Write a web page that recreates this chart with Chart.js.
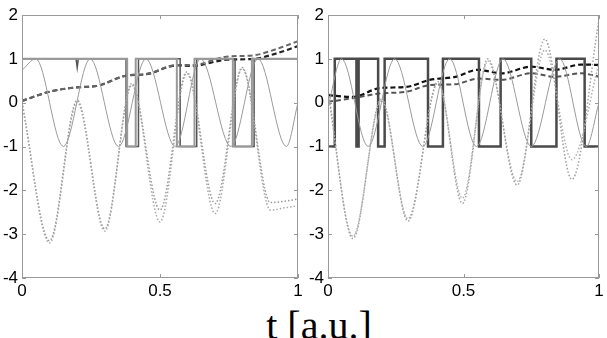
<!DOCTYPE html>
<html>
<head>
<meta charset="utf-8">
<script src="https://cdn.jsdelivr.net/npm/chart.js@4"></script>
<style>
  body { margin: 0; background: #fff; }
  #wrap { position: relative; width: 607px; height: 338px; overflow: hidden; }
  #left { position: absolute; left: 0; top: 0; }
  #right { position: absolute; left: 306px; top: 0; }
  #xlabel { position: absolute; left: 319px; top: 306px; transform: translateX(-50%);
            font: 40px "Liberation Serif", serif; line-height: 40px; white-space: nowrap; color: #000; }
</style>
</head>
<body>
<div id="wrap">
  <canvas id="left" width="306" height="300"></canvas>
  <canvas id="right" width="301" height="300"></canvas>
  <div id="xlabel">t [a.u.]</div>
</div>
<script>
// axis ticks
const xTicks = [0, 0.5, 1];
const yTicks = [-4, -3, -2, -1, 0, 1, 2];

// ---- left panel ----
const lSquareT = [0, 0.196, 0.2, 0.204, 0.377, 0.377, 0.422, 0.422, 0.573, 0.573, 0.633, 0.633, 0.772, 0.772, 0.841, 0.841, 1];
const lSquareV = [1, 1, 0.8, 1, 1, -1, -1, 1, 1, -1, -1, 1, 1, -1, -1, 1, 1];
const lSquare2T = [0, 0.381, 0.381, 0.412, 0.412, 0.561, 0.561, 0.625, 0.625, 0.764, 0.764, 0.833, 0.833, 1];
const lSquare2V = [1, 1, -1, -1, 1, 1, -1, -1, 1, 1, -1, -1, 1, 1];
const lSineT = [0, 0.05, 0.15, 0.247, 0.35, 0.449, 0.555, 0.647, 0.757, 0.855, 0.958, 1];
const lSineV = [0.74, 1, -1, 1, -1, 1, -1, 1, -1, 1, -1, 0];
const lDotT = [0, 0.1, 0.2, 0.3, 0.398, 0.5, 0.597, 0.7, 0.798, 0.9, 0.95, 1];
const lDotA = [0, -3.2, 0, -2.93, 0.44, -2.72, 0.67, -2.53, 0.78, -2.45, -2.4, -2.35];
const lDotB = [0, -3.15, 0.05, -2.88, 0.4, -2.45, 0.7, -2.3, 0.8, -2.28, -2.25, -2.2];
const lDashT = [0, 0.1, 0.2, 0.27, 0.38, 0.45, 0.56, 0.62, 0.74, 0.84, 0.92, 1];
const lDashDark = [0.04, 0.25, 0.35, 0.38, 0.62, 0.65, 0.85, 0.84, 0.98, 1.0, 1.12, 1.29];
const lDashGray = [0.04, 0.25, 0.35, 0.38, 0.62, 0.65, 0.86, 0.86, 1.05, 1.08, 1.22, 1.4];

// ---- right panel ----
const rSquareT = [0, 0.025, 0.025, 0.105, 0.105, 0.113, 0.113, 0.185, 0.185, 0.209, 0.209, 0.369, 0.369,
                  0.424, 0.424, 0.557, 0.557, 0.637, 0.637, 0.75, 0.75, 0.843, 0.843, 0.947, 0.947, 1];
const rSquareV = [-1, -1, 1, 1, -1, -1, 1, 1, -1, -1, 1, 1, -1, -1, 1, 1, -1, -1, 1, 1, -1, -1, 1, 1, -1, -1];
const rSineT = [0, 0.05, 0.148, 0.246, 0.35, 0.449, 0.548, 0.646, 0.75, 0.855, 0.953, 1];
const rSineV = [-0.1, 1, -1, 1, -1, 1, -1, 1, -1, 1, -1, 0];
const rDotT = [0, 0.092, 0.197, 0.295, 0.406, 0.496, 0.59, 0.698, 0.8, 0.9, 1];
const rDotA = [0.3, -3.1, 0.1, -2.7, 0.48, -2.3, 1.0, -1.88, 1.45, -1.75, 1.9];
const rDotB = [0.2, -3.05, 0.05, -2.65, 0.45, -2.18, 0.95, -1.8, 1.2, -1.3, 0.9];
const rDashT = [0, 0.09, 0.19, 0.29, 0.375, 0.47, 0.554, 0.64, 0.75, 0.837, 0.935, 1];
const rDashDark = [0.17, 0.13, 0.33, 0.36, 0.52, 0.59, 0.75, 0.67, 0.82, 0.75, 0.87, 0.86];
const rDashGray = [0.02, 0.1, 0.21, 0.25, 0.4, 0.42, 0.55, 0.52, 0.67, 0.59, 0.67, 0.59];

function pts(ts, vs) {
  return ts.map((t, i) => ({ x: t, y: vs[i] }));
}

function square(ts, vs, color, w) {
  return { data: pts(ts, vs), borderColor: color, borderWidth: w, tension: 0, pointRadius: 0 };
}
function smooth(ts, vs, color, w, dash) {
  return { data: pts(ts, vs), borderColor: color, borderWidth: w, borderDash: dash,
           cubicInterpolationMode: 'monotone', pointRadius: 0 };
}

// matlab style box with inward ticks
const frame = {
  id: 'frame',
  afterDraw(chart) {
    const { ctx, chartArea: a, scales } = chart;
    ctx.save();
    ctx.strokeStyle = '#999';
    ctx.lineWidth = 1;
    ctx.strokeRect(a.left + 0.5, a.top + 0.5, a.right - a.left - 1, a.bottom - a.top - 1);
    ctx.beginPath();
    xTicks.forEach(v => {
      const p = Math.round(scales.x.getPixelForValue(v)) + 0.5;
      ctx.moveTo(p, a.bottom); ctx.lineTo(p, a.bottom - 4);
      ctx.moveTo(p, a.top); ctx.lineTo(p, a.top + 4);
    });
    yTicks.forEach(v => {
      const p = Math.round(scales.y.getPixelForValue(v)) + 0.5;
      ctx.moveTo(a.left, p); ctx.lineTo(a.left + 4, p);
      ctx.moveTo(a.right, p); ctx.lineTo(a.right - 4, p);
    });
    ctx.stroke();
    ctx.restore();
  }
};

function makeOptions() {
  const font = { family: '"Liberation Sans", Arial, sans-serif', size: 17 };
  return {
    responsive: false,
    animation: false,
    layout: { padding: { top: 15, right: 8, left: 0, bottom: 0 } },
    plugins: { legend: { display: false }, tooltip: { enabled: false } },
    scales: {
      x: {
        type: 'linear', min: 0, max: 1,
        afterBuildTicks: s => { s.ticks = xTicks.map(v => ({ value: v })); },
        afterFit: s => { s.height = 22; },
        grid: { display: false, drawTicks: false }, border: { display: false },
        ticks: { color: '#000', font: font, padding: 3, maxRotation: 0, callback: v => String(v) }
      },
      y: {
        min: -4, max: 2,
        afterBuildTicks: s => { s.ticks = yTicks.map(v => ({ value: v })); },
        afterFit: s => { s.width = 22; },
        grid: { display: false, drawTicks: false }, border: { display: false },
        ticks: { color: '#000', font: font, padding: 4, callback: v => String(v) }
      }
    }
  };
}

new Chart(document.getElementById('left'), {
  type: 'line',
  data: {
    datasets: [
      smooth(lDotT, lDotA, '#a8a8a8', 1.5, [1.5, 2]),
      smooth(lDotT, lDotB, '#999', 1.5, [1.5, 2]),
      smooth(lSineT, lSineV, '#9a9a9a', 1, []),
      square(lSquare2T, lSquare2V, '#999', 2),
      square(lSquareT, lSquareV, '#555', 1.5),
      smooth(lDashT, lDashGray, '#666', 2, [5, 3]),
      smooth(lDashT, lDashDark, '#222', 2.2, [5, 3])
    ]
  },
  options: makeOptions(),
  plugins: [frame]
});

new Chart(document.getElementById('right'), {
  type: 'line',
  data: {
    datasets: [
      smooth(rDotT, rDotA, '#a0a0a0', 1.5, [1.5, 2]),
      smooth(rDotT, rDotB, '#b0b0b0', 1.5, [1.5, 2]),
      smooth(rSineT, rSineV, '#9a9a9a', 1, []),
      square(rSquareT, rSquareV, '#4a4a4a', 2.5),
      smooth(rDashT, rDashGray, '#555', 2, [5, 3]),
      smooth(rDashT, rDashDark, '#111', 2.2, [5, 3])
    ]
  },
  options: makeOptions(),
  plugins: [frame]
});
</script>
</body>
</html>
